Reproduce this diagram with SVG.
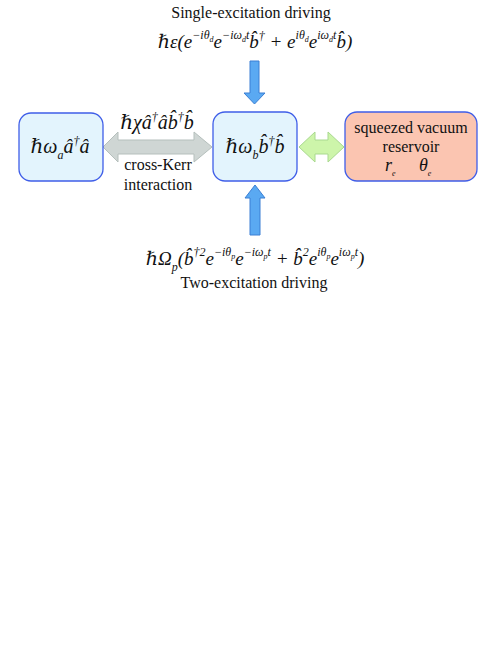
<svg xmlns="http://www.w3.org/2000/svg" width="498" height="664" viewBox="0 0 498 664" font-family="'Liberation Serif', 'Times New Roman', serif">
<style>
text{font-family:"Liberation Serif","Times New Roman","DejaVu Serif",serif;fill:#111}
.t{font-size:16px}
.m{font-size:20px;font-style:italic}
.f{font-size:19px;font-style:italic}
.s{font-size:12px}
.ss{font-size:8px}
.box{fill:#e3f4fd;stroke:#3f5ee8;stroke-width:1.3}
.res{fill:#fbc5b1;stroke:#3f5ee8;stroke-width:1.3}
.ga{fill:#cfd6d4;stroke:#b5bfbc;stroke-width:1}
.gr{fill:#cdf5aa;stroke:#a9d98f;stroke-width:1}
.bl{fill:#5aa9f2;stroke:#3b7fd4;stroke-width:1}
</style>
<rect width="498" height="664" fill="#fff"/>
<g id="connectors">
<polygon class="ga" points="103,147 118,132 118,140 194,140 194,132 212,147 194,162 194,154 118,154 118,162"/>
<polygon class="gr" points="299,147 315,132 315,140 328,140 328,132 344,147 328,162 328,154 315,154 315,162"/>
<polygon class="bl" points="250,61 259,61 259,93 265,93 254.5,104 244,93 250,93"/>
<polygon class="bl" points="255,185 265,198 260,198 260,235 250,235 250,198 245,198"/>
</g>
<g id="single-drive">
<text class="t" x="251" y="18" text-anchor="middle">Single-excitation driving</text>
<text class="f" x="255" y="48" text-anchor="middle">ℏε(e<tspan class="s" dy="-9">−iθ</tspan><tspan class="ss" dy="3">d</tspan><tspan dy="6">e</tspan><tspan class="s" dy="-9">−iω</tspan><tspan class="ss" dy="3">d</tspan><tspan class="s" dy="-3">t</tspan><tspan dy="9">b̂</tspan><tspan class="s" dy="-8">†</tspan><tspan dy="8"> + e</tspan><tspan class="s" dy="-9">iθ</tspan><tspan class="ss" dy="3">d</tspan><tspan dy="6">e</tspan><tspan class="s" dy="-9">iω</tspan><tspan class="ss" dy="3">d</tspan><tspan class="s" dy="-3">t</tspan><tspan dy="9">b̂)</tspan></text>
</g>
<g id="mode-a">
<rect class="box" x="19" y="113" width="84" height="68" rx="12"/>
<text class="m" x="60" y="153" text-anchor="middle">ℏω<tspan class="s" dy="6">a</tspan><tspan dy="-6">â</tspan><tspan class="s" dy="-8">†</tspan><tspan dy="8">â</tspan></text>
</g>
<g id="mode-b">
<rect class="box" x="213" y="112" width="84" height="69" rx="12"/>
<text class="m" x="255" y="153" text-anchor="middle">ℏω<tspan class="s" dy="6">b</tspan><tspan dy="-6">b̂</tspan><tspan class="s" dy="-8">†</tspan><tspan dy="8">b̂</tspan></text>
</g>
<g id="reservoir">
<rect class="res" x="345" y="112" width="132" height="69" rx="12"/>
<text class="t" x="411" y="133" text-anchor="middle">squeezed vacuum</text>
<text class="t" x="411" y="152" text-anchor="middle">reservoir</text>
<text class="m" x="385" y="171" style="font-size:18px">r<tspan class="ss" dy="5">e</tspan></text>
<text class="m" x="419" y="171" style="font-size:18px">θ<tspan class="ss" dy="5">e</tspan></text>
</g>
<g id="cross-kerr">
<text class="m" x="157" y="129" text-anchor="middle">ℏχâ<tspan class="s" dy="-8">†</tspan><tspan dy="8">âb̂</tspan><tspan class="s" dy="-8">†</tspan><tspan dy="8">b̂</tspan></text>
<text class="t" x="158" y="170" text-anchor="middle">cross-Kerr</text>
<text class="t" x="158" y="190" text-anchor="middle">interaction</text>
</g>
<g id="two-drive">
<text class="f" x="255" y="265" text-anchor="middle">ℏΩ<tspan class="s" dy="6">p</tspan><tspan dy="-6">(b̂</tspan><tspan class="s" dy="-9">†2</tspan><tspan dy="9">e</tspan><tspan class="s" dy="-9">−iθ</tspan><tspan class="ss" dy="3">p</tspan><tspan dy="6">e</tspan><tspan class="s" dy="-9">−iω</tspan><tspan class="ss" dy="3">p</tspan><tspan class="s" dy="-3">t</tspan><tspan dy="9"> + b̂</tspan><tspan class="s" dy="-9">2</tspan><tspan dy="9">e</tspan><tspan class="s" dy="-9">iθ</tspan><tspan class="ss" dy="3">p</tspan><tspan dy="6">e</tspan><tspan class="s" dy="-9">iω</tspan><tspan class="ss" dy="3">p</tspan><tspan class="s" dy="-3">t</tspan><tspan dy="9">)</tspan></text>
<text class="t" x="254" y="288" text-anchor="middle">Two-excitation driving</text>
</g>
</svg>
